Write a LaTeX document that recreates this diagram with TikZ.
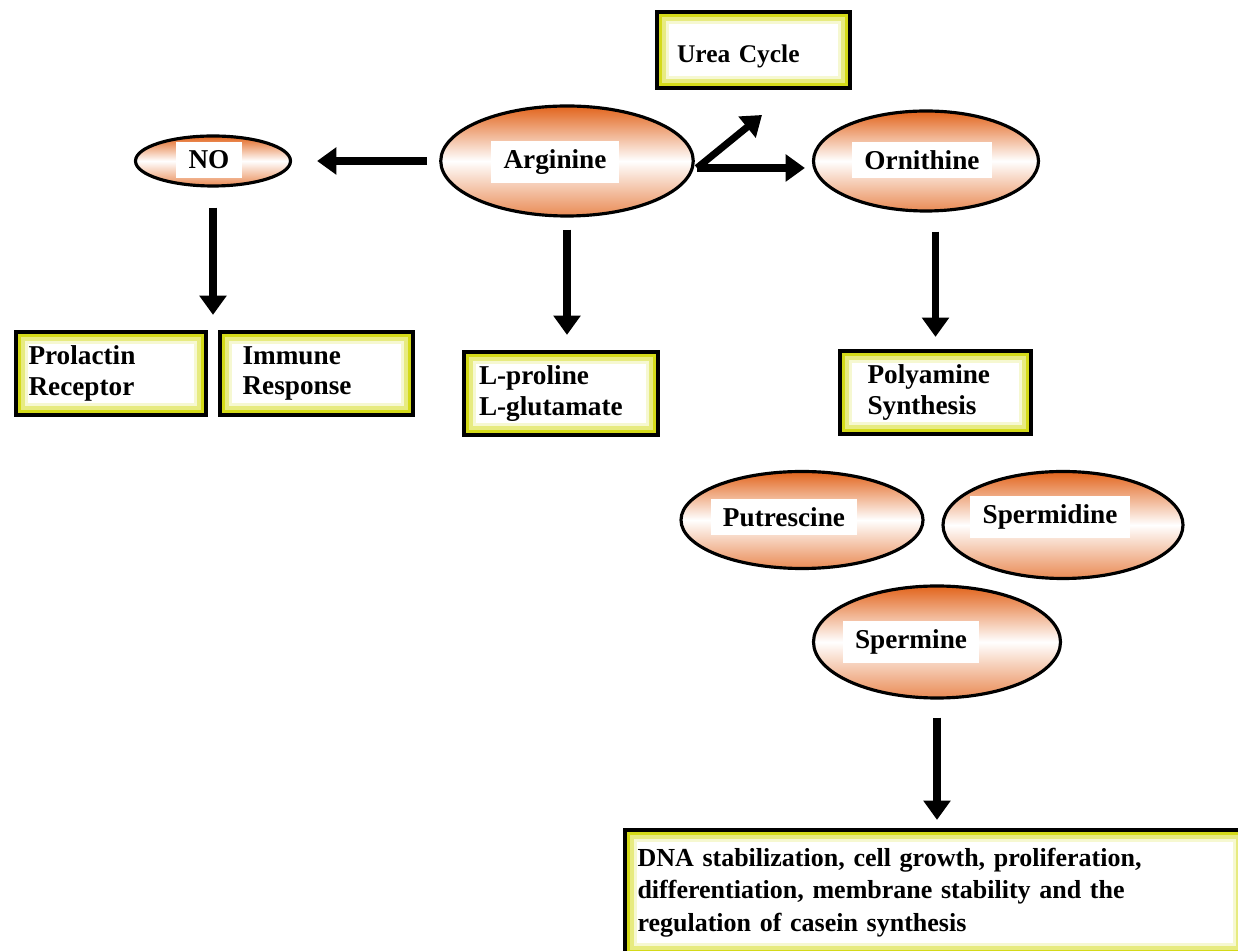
\documentclass[tikz,border=0pt]{standalone}
\usepackage{fontspec}
\setmainfont{Liberation Serif}
\usetikzlibrary{arrows.meta,shapes.geometric}
\definecolor{orng}{RGB}{226,100,28}
\definecolor{ylw}{RGB}{212,218,24}
\tikzset{
  blob/.style={ellipse, draw, line width=1.8pt, top color=orng,
    bottom color=orng!75, middle color=white},
  tag/.style={fill=white, inner xsep=7pt, inner ysep=5pt,
    font=\fontsize{15.5}{18}\selectfont\bfseries},
  box/.style={draw, line width=2.4pt, fill=ylw, align=left,
    inner xsep=0.25cm, minimum height=1.66cm,
    font=\fontsize{15.5}{17.5}\selectfont\bfseries,
    path picture={
      \fill[ylw!55] ([shift={(3pt,-3pt)}]path picture bounding box.north west)
        rectangle ([shift={(-3pt,3pt)}]path picture bounding box.south east);
      \fill[ylw!20] ([shift={(5pt,-5pt)}]path picture bounding box.north west)
        rectangle ([shift={(-5pt,5pt)}]path picture bounding box.south east);
      \fill[white] ([shift={(7pt,-7pt)}]path picture bounding box.north west)
        rectangle ([shift={(-7pt,7pt)}]path picture bounding box.south east);}},
  flow/.style={line width=4pt, -{Triangle[length=11pt,width=15pt]}}
}
\begin{document}
\begin{tikzpicture}
    \useasboundingbox (0,0) rectangle (24.76,19.02);

    % boxes
    \node [box, inner xsep=0.4cm, text width=3.06cm, minimum height=1.52cm,
      text height=0.6cm, text depth=0.1cm, font=\fontsize{14.5}{17.5}\selectfont\bfseries]
      (urea) at (15.07,18.02) {Urea Cycle};
    \node [box, text width=3.3cm] (pro) at (2.22,11.55) {Prolactin\\Receptor};
    \node [box, inner xsep=0.45cm, text width=2.96cm]
      (imm) at (6.33,11.55) {Immune\\Response};
    \node [box, inner xsep=0.3cm, text width=3.28cm]
      (lpro) at (11.22,11.15) {L-proline\\L-glutamate};
    \node [box, inner xsep=0.55cm, text width=2.72cm]
      (poly) at (18.71,11.17) {Polyamine\\Synthesis};
    \node [box, text width=11.9cm, minimum height=2.5cm,
      font=\fontsize{14.8}{18.5}\selectfont\bfseries] (dna) at (18.7,1.17)
      {DNA stabilization, cell growth, proliferation,\\
       differentiation, membrane stability and the\\
       regulation of casein synthesis};

    % ellipses
    \node [blob, minimum width=3.1cm, minimum height=1.0cm] (no) at (4.26,15.8) {};
    \node [blob, minimum width=5.05cm, minimum height=2.2cm] (arg) at (11.34,15.8) {};
    \node [blob, minimum width=4.5cm, minimum height=2.0cm] (orn) at (18.52,15.8) {};
    \node [blob, minimum width=4.84cm, minimum height=1.94cm] (put) at (16.04,8.62) {};
    \node [blob, minimum width=4.8cm, minimum height=2.14cm] (spd) at (21.26,8.52) {};
    \node [blob, minimum width=4.94cm, minimum height=2.24cm] (spm) at (18.74,6.18) {};

    \node [tag] (no-t) at (4.18,15.82) {NO};
    \node [tag] (arg-t) at (11.1,15.78) {Arginine};
    \node [tag] (orn-t) at (18.44,15.82) {Ornithine};
    \node [tag] (put-t) at (15.68,8.68) {Putrescine};
    \node [tag] (spd-t) at (21.0,8.68) {Spermidine};
    \node [tag] (spm-t) at (18.22,6.18) {Spermine};

    % arrows
    \coordinate (fork) at (13.94,15.66);
    \coordinate (urtip) at (15.24,16.72);

    \draw [flow, shorten <=0.24cm, shorten >=0.5cm] (arg) -- (no);
    \draw [flow] (fork) -- (urtip);
    \draw [flow, shorten >=0.14cm] (fork) -- (fork -| orn.west);
    \draw [flow, shorten <=0.4cm, shorten >=0.3cm] (no) -- (no |- pro.north);
    \draw [flow, shorten <=0.24cm, shorten >=0.3cm] (arg) -- (arg |- lpro.north);
    \draw [flow, shorten <=0.38cm, shorten >=0.24cm] (poly |- orn.south) -- (poly);
    \draw [flow, shorten <=0.36cm, shorten >=0.16cm] (spm) -- (spm |- dna.north);
  \end{tikzpicture}
\end{document}
